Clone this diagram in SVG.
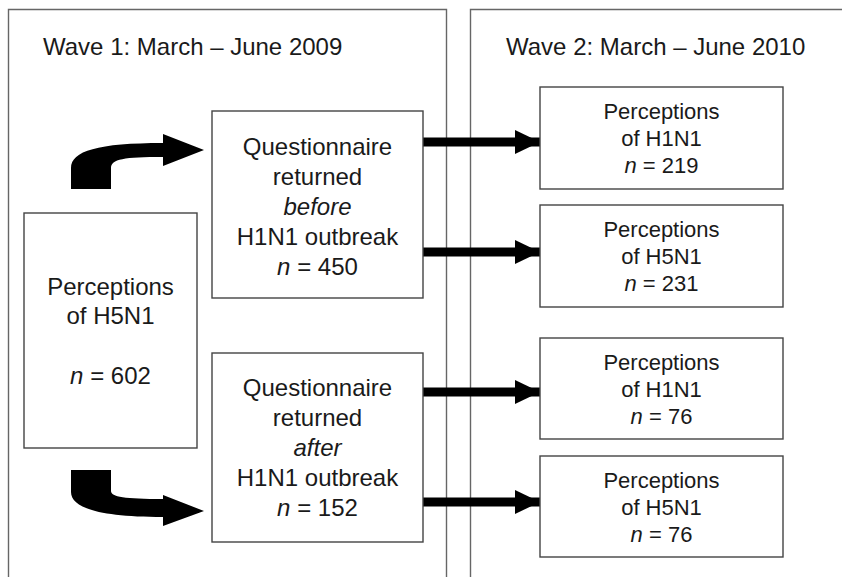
<svg xmlns="http://www.w3.org/2000/svg" width="842" height="577" viewBox="0 0 842 577">
<style>
  .panel { fill: none; stroke: #666; stroke-width: 1.4; }
  .box { fill: #fff; stroke: #444; stroke-width: 1.4; }
  text { font-family: "Liberation Sans", Arial, sans-serif; fill: #1a1a1a; }
  .t24 { font-size: 24px; }
  .t22 { font-size: 22px; text-anchor: middle; }
  .c24 { font-size: 24px; text-anchor: middle; }
  .it { font-style: italic; }
  .arrow { fill: #000; stroke: none; }
  .shaft { stroke: #000; stroke-width: 9; fill: none; }
</style>
<defs>
  <marker id="head" viewBox="0 0 25 24" refX="25" refY="12" markerWidth="25" markerHeight="24" markerUnits="userSpaceOnUse" orient="auto">
    <path d="M0 0 L25 12 L0 24 Z" fill="#000"/>
  </marker>
</defs>
<rect width="842" height="577" fill="#fff"/>

<g id="wave1">
  <path class="panel" d="M8.5 577 V9.5 H446.5 V577"/>
  <text class="t24" x="43" y="55">Wave 1: March – June 2009</text>
</g>
<g id="wave2">
  <path class="panel" d="M470.5 577 V9.5 H842"/>
  <text class="t24" x="506" y="55">Wave 2: March – June 2010</text>
</g>

<g id="connectors">
  <path class="arrow" d="M71 189 L71 168 C71 151 98 143 163 143 L163 134 L204 150 L163 166 L163 157 C124 157 111 159 111 168 L111 189 Z"/>
  <path class="arrow" d="M71 470 L111 470 L111 491 C111 497 125 499 163 499 L163 495 L204 511 L163 526 L163 517 C100 517 71 508 71 492 Z"/>
  <line class="shaft" x1="423" y1="142" x2="540" y2="142" marker-end="url(#head)"/>
  <line class="shaft" x1="423" y1="252" x2="540" y2="252" marker-end="url(#head)"/>
  <line class="shaft" x1="423" y1="392" x2="540" y2="392" marker-end="url(#head)"/>
  <line class="shaft" x1="423" y1="502" x2="540" y2="502" marker-end="url(#head)"/>
</g>

<g id="h5n1_wave1">
  <rect class="box" x="24" y="213" width="173" height="235"/>
  <text class="c24" x="110.5" y="295">Perceptions</text>
  <text class="c24" x="110.5" y="324">of H5N1</text>
  <text class="c24" x="110.5" y="384"><tspan class="it">n</tspan> = 602</text>
</g>

<g id="q_before">
  <rect class="box" x="212" y="111" width="211" height="187"/>
  <text class="c24" x="317.5" y="155">Questionnaire</text>
  <text class="c24" x="317.5" y="185">returned</text>
  <text class="c24 it" x="317.5" y="215">before</text>
  <text class="c24" x="317.5" y="245">H1N1 outbreak</text>
  <text class="c24" x="317.5" y="275"><tspan class="it">n</tspan> = 450</text>
</g>

<g id="q_after">
  <rect class="box" x="212" y="353" width="211" height="189"/>
  <text class="c24" x="317.5" y="396">Questionnaire</text>
  <text class="c24" x="317.5" y="426">returned</text>
  <text class="c24 it" x="317.5" y="456">after</text>
  <text class="c24" x="317.5" y="486">H1N1 outbreak</text>
  <text class="c24" x="317.5" y="516"><tspan class="it">n</tspan> = 152</text>
</g>

<g id="w2_before_h1n1">
  <rect class="box" x="540" y="87" width="243" height="102"/>
  <text class="t22" x="661.5" y="119">Perceptions</text>
  <text class="t22" x="661.5" y="146">of H1N1</text>
  <text class="t22" x="661.5" y="173"><tspan class="it">n</tspan> = 219</text>
</g>
<g id="w2_before_h5n1">
  <rect class="box" x="540" y="205" width="243" height="102"/>
  <text class="t22" x="661.5" y="237">Perceptions</text>
  <text class="t22" x="661.5" y="264">of H5N1</text>
  <text class="t22" x="661.5" y="291"><tspan class="it">n</tspan> = 231</text>
</g>
<g id="w2_after_h1n1">
  <rect class="box" x="540" y="338" width="243" height="101"/>
  <text class="t22" x="661.5" y="370">Perceptions</text>
  <text class="t22" x="661.5" y="397">of H1N1</text>
  <text class="t22" x="661.5" y="424"><tspan class="it">n</tspan> = 76</text>
</g>
<g id="w2_after_h5n1">
  <rect class="box" x="540" y="456" width="243" height="101"/>
  <text class="t22" x="661.5" y="488">Perceptions</text>
  <text class="t22" x="661.5" y="515">of H5N1</text>
  <text class="t22" x="661.5" y="542"><tspan class="it">n</tspan> = 76</text>
</g>
</svg>
